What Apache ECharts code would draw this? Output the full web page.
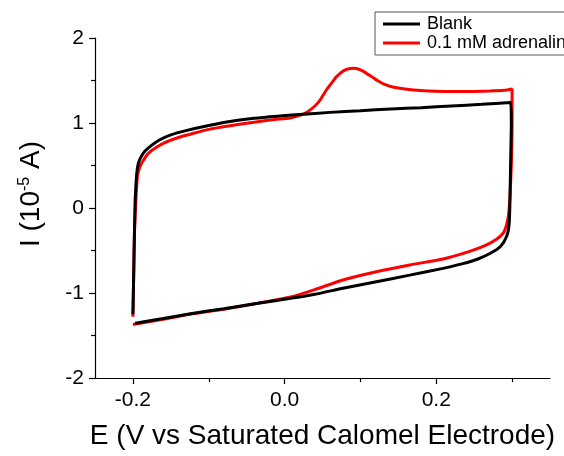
<!DOCTYPE html>
<html>
<head>
<meta charset="utf-8">
<script src="https://cdn.jsdelivr.net/npm/echarts@6/dist/echarts.min.js"></script>
<style>
  html, body { margin: 0; padding: 0; background: #fff; }
  #chart { width: 564px; height: 456px; }
</style>
</head>
<body>
<div id="chart"></div>
<script>
// Cyclic voltammograms: potential E (V vs SCE) and current I (10^-5 A)
const seriesNames = ['Blank', '0.1 mM adrenaline'];

const blankCurve = [
  [-0.200, -1.25], [-0.199, -0.80], [-0.198, -0.30], [-0.197, 0.10], [-0.195, 0.40],
  [-0.193, 0.52], [-0.190, 0.59], [-0.184, 0.67], [-0.175, 0.74], [-0.165, 0.80],
  [-0.150, 0.86], [-0.130, 0.91], [-0.100, 0.97], [-0.070, 1.02], [-0.040, 1.055],
  [-0.010, 1.08], [0.020, 1.10], [0.060, 1.125], [0.100, 1.145], [0.140, 1.165],
  [0.180, 1.18], [0.220, 1.20], [0.260, 1.22], [0.298, 1.24],
  [0.299, 1.00], [0.298, 0.50], [0.297, 0.00], [0.296, -0.20], [0.293, -0.33],
  [0.285, -0.45], [0.272, -0.53], [0.255, -0.60], [0.235, -0.655], [0.209, -0.71],
  [0.165, -0.79], [0.121, -0.867], [0.077, -0.945], [0.040, -1.015], [0.010, -1.06],
  [-0.035, -1.12], [-0.080, -1.185], [-0.122, -1.24], [-0.160, -1.30], [-0.197, -1.357]
];

const adrenalineCurve = [
  [-0.200, -1.28], [-0.199, -0.80], [-0.198, -0.30], [-0.196, 0.10], [-0.194, 0.38],
  [-0.191, 0.48], [-0.187, 0.55], [-0.180, 0.64], [-0.170, 0.71], [-0.155, 0.78],
  [-0.140, 0.83], [-0.120, 0.88], [-0.100, 0.925], [-0.070, 0.97], [-0.040, 1.01],
  [-0.013, 1.04], [0.007, 1.06], [0.020, 1.09], [0.030, 1.13], [0.040, 1.20],
  [0.046, 1.26], [0.051, 1.33], [0.056, 1.40], [0.062, 1.47], [0.068, 1.54],
  [0.074, 1.59], [0.080, 1.625], [0.086, 1.642], [0.092, 1.645], [0.098, 1.632],
  [0.104, 1.607], [0.110, 1.572], [0.117, 1.532], [0.124, 1.492], [0.131, 1.458],
  [0.140, 1.43], [0.152, 1.408], [0.170, 1.388], [0.190, 1.377], [0.226, 1.37],
  [0.250, 1.372], [0.270, 1.376], [0.290, 1.385], [0.300, 1.40],
  [0.300, 1.00], [0.299, 0.50], [0.297, 0.10], [0.295, -0.10], [0.292, -0.22],
  [0.288, -0.30], [0.279, -0.37], [0.265, -0.44], [0.244, -0.51], [0.209, -0.60],
  [0.165, -0.67], [0.121, -0.75], [0.077, -0.847], [0.040, -0.96], [0.010, -1.045],
  [-0.035, -1.12], [-0.080, -1.19], [-0.122, -1.245], [-0.160, -1.31], [-0.200, -1.37]
];

const xMajorTicks = [-0.2, 0.0, 0.2];
const xMinorTicks = [-0.1, 0.1, 0.3];

const FONT = '"Liberation Sans", Arial, sans-serif';

const chart = echarts.init(document.getElementById('chart'), null, { renderer: 'canvas' });

const baseX = {
  type: 'value',
  min: -0.25,
  max: 0.35,
  position: 'bottom',
  splitLine: { show: false }
};

chart.setOption({
  animation: false,
  backgroundColor: '#fff',
  grid: { left: 95, right: 14, top: 38, bottom: 78, containLabel: false },
  legend: {
    data: seriesNames,
    left: 375,
    top: 12,
    orient: 'vertical',
    icon: 'rect',
    itemWidth: 37,
    itemHeight: 3,
    itemGap: 1,
    padding: [3, 8, 3, 8],
    borderColor: '#555',
    borderWidth: 1,
    textStyle: { fontFamily: FONT, fontSize: 18, color: '#000', padding: [0, 0, 0, 2] }
  },
  xAxis: [
    Object.assign({}, baseX, {
      name: 'E (V vs Saturated Calomel Electrode)',
      nameLocation: 'middle',
      nameGap: 44,
      nameTextStyle: { fontFamily: FONT, fontSize: 28, color: '#000' },
      axisLine: { show: true, onZero: false, lineStyle: { color: '#000', width: 1.2 } },
      axisTick: { show: true, inside: false, length: 6, customValues: xMajorTicks, lineStyle: { color: '#000', width: 1.2 } },
      axisLabel: {
        show: true, margin: 12, customValues: xMajorTicks,
        fontFamily: FONT, fontSize: 21, color: '#000',
        formatter: v => v.toFixed(1)
      }
    }),
    Object.assign({}, baseX, {
      axisLine: { show: false, onZero: false },
      axisTick: { show: true, inside: false, length: 4, customValues: xMinorTicks, lineStyle: { color: '#000', width: 1.2 } },
      axisLabel: { show: false }
    })
  ],
  yAxis: {
    type: 'value',
    min: -2,
    max: 2,
    interval: 1,
    name: 'I (10{sup|-5} A)',
    nameLocation: 'middle',
    nameGap: 50,
    nameRotate: 90,
    nameTextStyle: {
      fontFamily: FONT, fontSize: 28, color: '#000',
      padding: [0, 0, 0, 28],
      rich: {
        sup: { fontFamily: FONT, fontSize: 16, color: '#000', verticalAlign: 'top', padding: [0, 0, 12, 0] }
      }
    },
    axisLine: { show: true, onZero: false, lineStyle: { color: '#000', width: 1.2 } },
    axisTick: { show: true, inside: false, length: 6, lineStyle: { color: '#000', width: 1.2 } },
    minorTick: { show: true, splitNumber: 2, length: 4, lineStyle: { color: '#000', width: 1.2 } },
    axisLabel: { margin: 11, fontFamily: FONT, fontSize: 21, color: '#000' },
    splitLine: { show: false }
  },
  series: [
    {
      name: seriesNames[1],
      type: 'line',
      data: adrenalineCurve,
      showSymbol: false,
      symbol: 'none',
      smooth: 0.2,
      color: '#ff0000',
      lineStyle: { color: '#ff0000', width: 3 },
      z: 2
    },
    {
      name: seriesNames[0],
      type: 'line',
      data: blankCurve,
      showSymbol: false,
      symbol: 'none',
      smooth: 0.2,
      color: '#000000',
      lineStyle: { color: '#000000', width: 3 },
      z: 3
    }
  ]
});
</script>
</body>
</html>
